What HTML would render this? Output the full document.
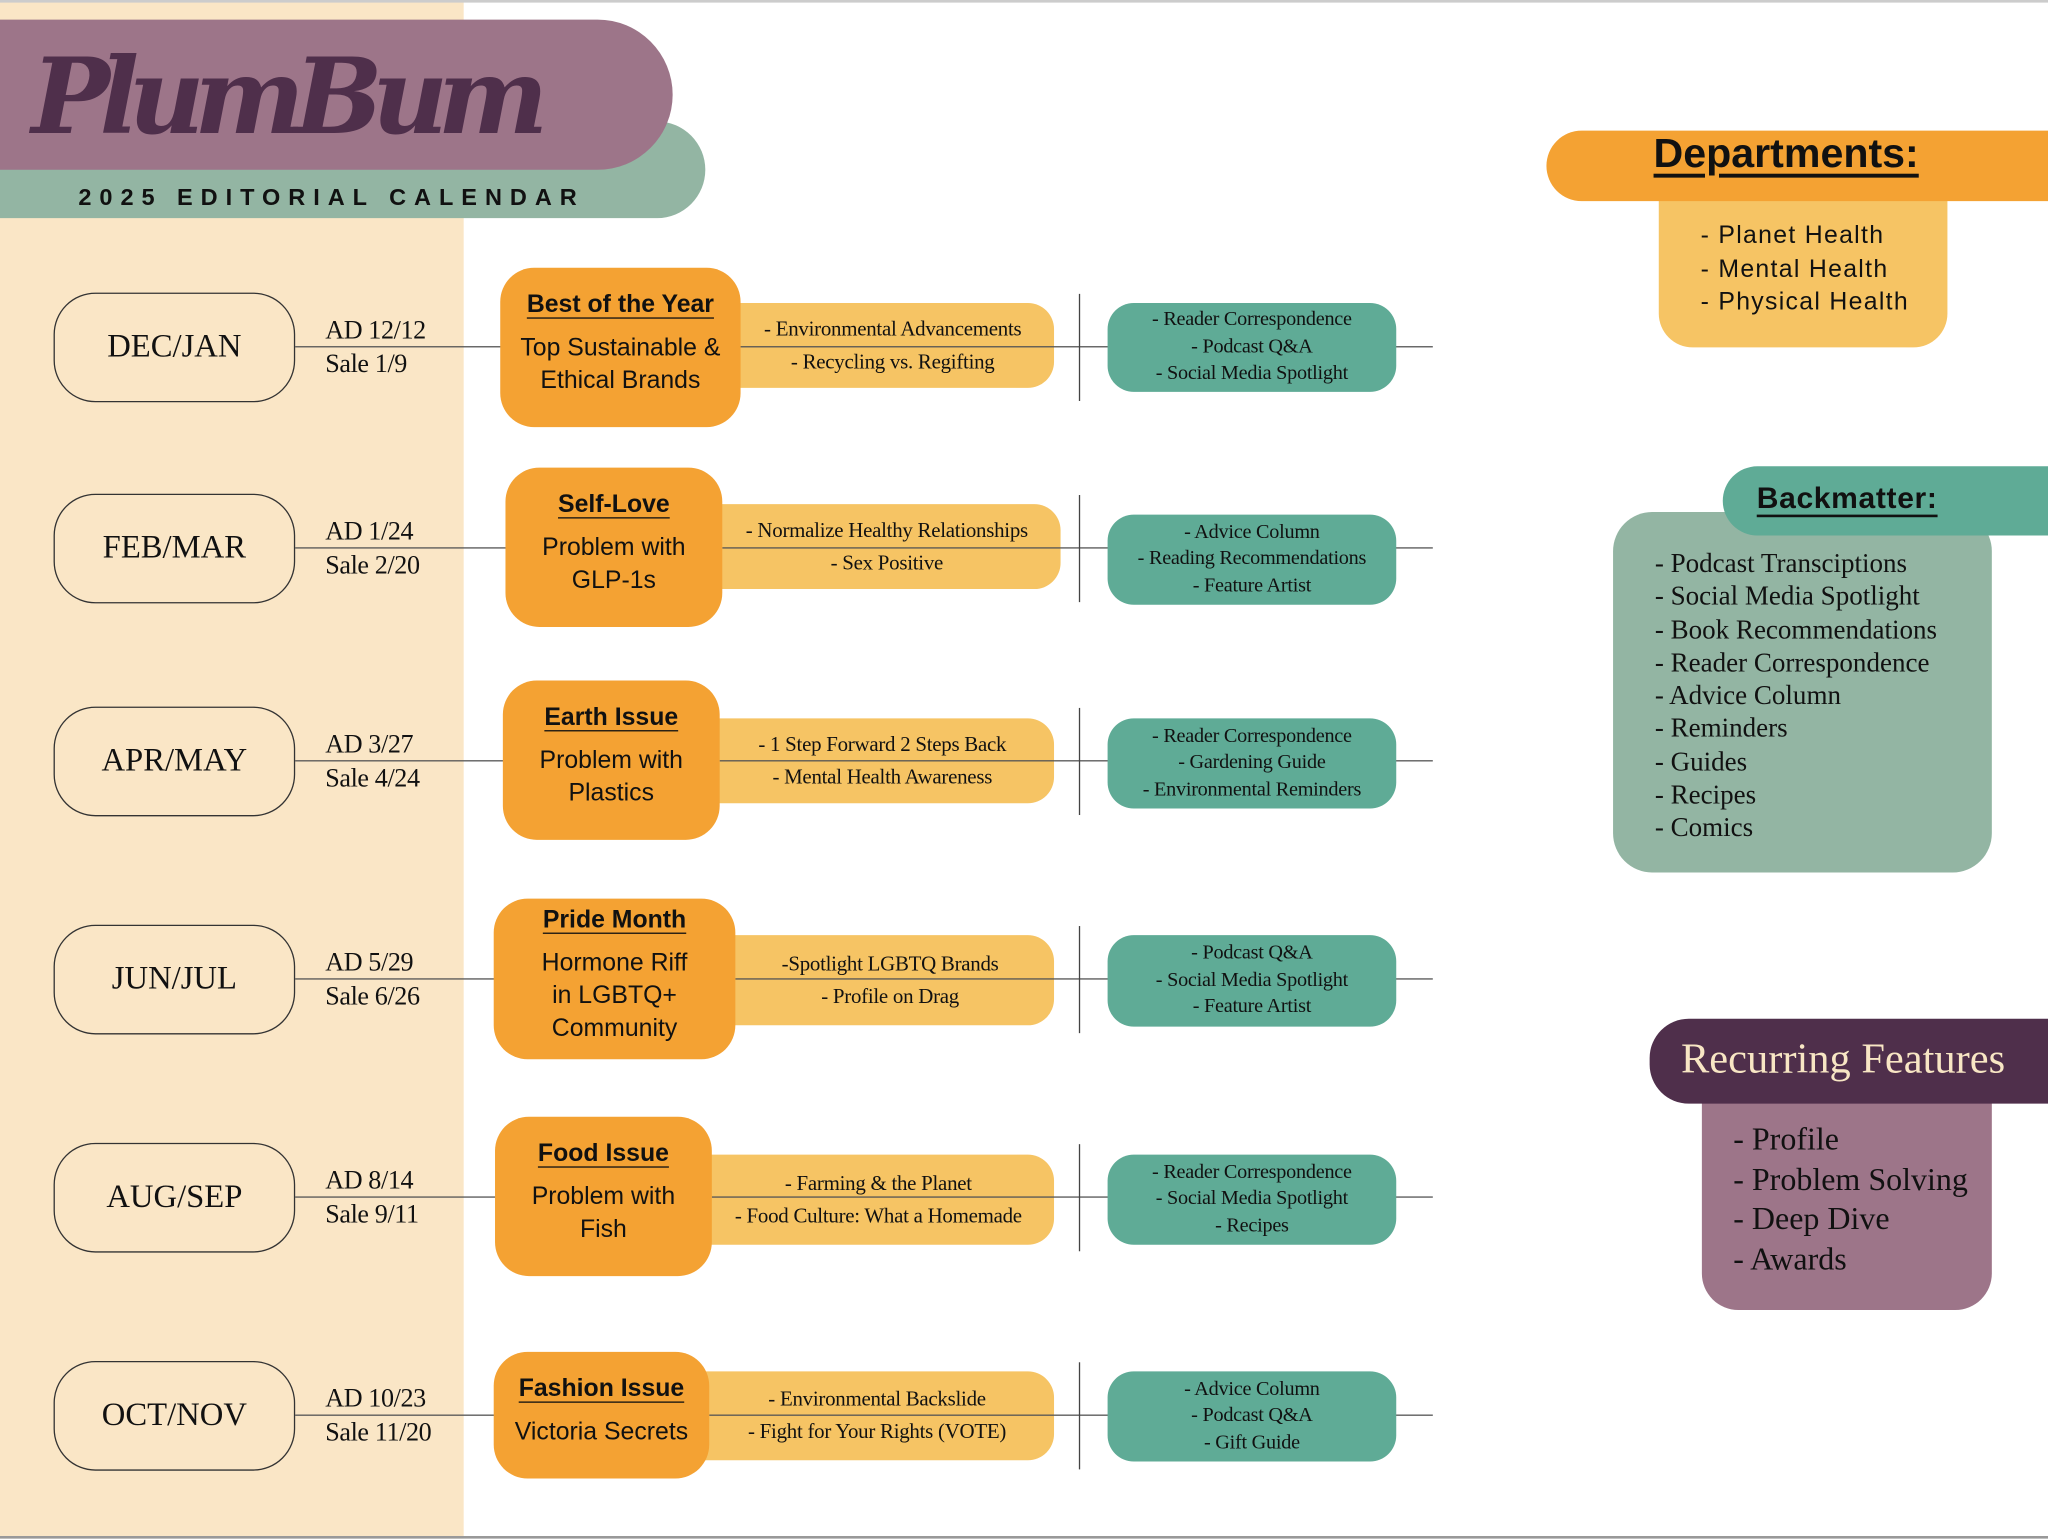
<!DOCTYPE html>
<html><head><meta charset="utf-8"><style>
html,body{margin:0;padding:0;background:#fff;width:2048px;height:1538px;overflow:hidden}
#s{position:absolute;left:0;top:0;width:1568px;height:1178px;transform:scale(1.30612);transform-origin:0 0;font-family:"Liberation Sans",sans-serif;color:#111}
.a{position:absolute;box-sizing:border-box}
.c{display:flex;flex-direction:column;align-items:center;justify-content:center;text-align:center}
.mon{border:1.2px solid #333;border-radius:32px;width:185px;height:84px;left:41px;font-family:"Liberation Serif",serif;font-size:25px;background:#fae6c6}
.hl{height:1.3px;background:#555}
.ad{font-family:"Liberation Serif",serif;font-size:20px;left:249px;line-height:26px;letter-spacing:-0.3px}
.or{background:#f4a233;border-radius:26px;font-size:19px;line-height:25px;z-index:3}
.or b{text-decoration:underline;text-underline-offset:4px;margin-bottom:8px;margin-top:-8px;font-size:19px}
.ye{background:#f6c464;border-radius:0 20px 20px 0;font-family:"Liberation Serif",serif;font-size:16px;line-height:25px;z-index:1;letter-spacing:-0.2px}
.gr{background:#5fab96;border-radius:20px;width:221px;left:848px;font-family:"Liberation Serif",serif;font-size:15.5px;line-height:20.5px;letter-spacing:-0.2px}
.vl{width:1.3px;background:#444;left:826px;height:82px}
.ln{z-index:2}
</style></head><body><div id="s">
<div class="a" style="left:0;top:0;width:355px;height:1178px;background:#fae6c6"></div>
<div class="a" style="left:0;top:0;width:1568px;height:1.5px;background:#ccc"></div>
<div class="a" style="left:0;top:1176px;width:1568px;height:2px;background:#999"></div>
<!-- header -->
<div class="a" style="left:0;top:93px;width:540px;height:74px;background:#93b5a3;border-radius:0 40px 40px 0"></div>
<div class="a" style="left:0;top:15px;width:515px;height:115px;background:#9d7589;border-radius:0 58px 58px 0"></div>
<div class="a" style="left:24px;top:14px;font-family:'DejaVu Serif',serif;font-style:italic;font-weight:bold;font-size:80px;color:#4f2f4b;letter-spacing:-8px;line-height:120px">PlumBum</div>
<div class="a" style="left:60px;top:139px;font-size:18px;font-weight:bold;letter-spacing:6.1px;color:#111;line-height:24px">2025 EDITORIAL CALENDAR</div>

<!-- row 1 -->
<div class="a hl" style="left:226px;top:265px;width:871px"></div>
<div class="a mon c" style="top:224px">DEC/JAN</div>
<div class="a ad" style="top:240px">AD 12/12<br>Sale 1/9</div>
<div class="a or c" style="left:383px;top:205px;width:184px;height:122px"><b>Best of the Year</b>Top Sustainable &amp;<br>Ethical Brands</div>
<div class="a ye c" style="left:560px;top:232px;width:247px;height:65px">- Environmental Advancements<br>- Recycling vs. Regifting</div>
<div class="a hl ln" style="left:567px;top:265px;width:240px"></div>
<div class="a vl" style="top:225px"></div>
<div class="a gr c" style="top:232px;height:68px">- Reader Correspondence<br>- Podcast Q&amp;A<br>- Social Media Spotlight</div>

<!-- row 2 -->
<div class="a hl" style="left:226px;top:419px;width:871px"></div>
<div class="a mon c" style="top:378px">FEB/MAR</div>
<div class="a ad" style="top:394px">AD 1/24<br>Sale 2/20</div>
<div class="a or c" style="left:387px;top:358px;width:166px;height:122px"><b>Self-Love</b>Problem with<br>GLP-1s</div>
<div class="a ye c" style="left:546px;top:386px;width:266px;height:65px">- Normalize Healthy Relationships<br>- Sex Positive</div>
<div class="a hl ln" style="left:553px;top:419px;width:259px"></div>
<div class="a vl" style="top:379px"></div>
<div class="a gr c" style="top:394px;height:69px">- Advice Column<br>- Reading Recommendations<br>- Feature Artist</div>

<!-- row 3 -->
<div class="a hl" style="left:226px;top:582px;width:871px"></div>
<div class="a mon c" style="top:541px">APR/MAY</div>
<div class="a ad" style="top:557px">AD 3/27<br>Sale 4/24</div>
<div class="a or c" style="left:385px;top:521px;width:166px;height:122px"><b>Earth Issue</b>Problem with<br>Plastics</div>
<div class="a ye c" style="left:544px;top:550px;width:263px;height:65px">- 1 Step Forward 2 Steps Back<br>- Mental Health Awareness</div>
<div class="a hl ln" style="left:551px;top:582px;width:256px"></div>
<div class="a vl" style="top:542px"></div>
<div class="a gr c" style="top:550px;height:69px">- Reader Correspondence<br>- Gardening Guide<br>- Environmental Reminders</div>

<!-- row 4 -->
<div class="a hl" style="left:226px;top:749px;width:871px"></div>
<div class="a mon c" style="top:708px">JUN/JUL</div>
<div class="a ad" style="top:724px">AD 5/29<br>Sale 6/26</div>
<div class="a or c" style="left:378px;top:688px;width:185px;height:123px"><b>Pride Month</b>Hormone Riff<br>in LGBTQ+<br>Community</div>
<div class="a ye c" style="left:556px;top:716px;width:251px;height:69px">-Spotlight LGBTQ Brands<br>- Profile on Drag</div>
<div class="a hl ln" style="left:563px;top:749px;width:244px"></div>
<div class="a vl" style="top:709px"></div>
<div class="a gr c" style="top:716px;height:70px">- Podcast Q&amp;A<br>- Social Media Spotlight<br>- Feature Artist</div>

<!-- row 5 -->
<div class="a hl" style="left:226px;top:916px;width:871px"></div>
<div class="a mon c" style="top:875px">AUG/SEP</div>
<div class="a ad" style="top:891px">AD 8/14<br>Sale 9/11</div>
<div class="a or c" style="left:379px;top:855px;width:166px;height:122px"><b>Food Issue</b>Problem with<br>Fish</div>
<div class="a ye c" style="left:538px;top:884px;width:269px;height:69px">- Farming &amp; the Planet<br>- Food Culture: What a Homemade</div>
<div class="a hl ln" style="left:545px;top:916px;width:262px"></div>
<div class="a vl" style="top:876px"></div>
<div class="a gr c" style="top:884px;height:69px">- Reader Correspondence<br>- Social Media Spotlight<br>- Recipes</div>

<!-- row 6 -->
<div class="a hl" style="left:226px;top:1083px;width:871px"></div>
<div class="a mon c" style="top:1042px">OCT/NOV</div>
<div class="a ad" style="top:1058px">AD 10/23<br>Sale 11/20</div>
<div class="a or c" style="left:378px;top:1035px;width:165px;height:97px"><b>Fashion Issue</b>Victoria Secrets</div>
<div class="a ye c" style="left:536px;top:1050px;width:271px;height:68px">- Environmental Backslide<br>- Fight for Your Rights (VOTE)</div>
<div class="a hl ln" style="left:543px;top:1083px;width:264px"></div>
<div class="a vl" style="top:1043px"></div>
<div class="a gr c" style="top:1050px;height:69px">- Advice Column<br>- Podcast Q&amp;A<br>- Gift Guide</div>

<!-- Departments -->
<div class="a" style="left:1270px;top:140px;width:221px;height:126px;background:#f6c464;border-radius:0 0 26px 26px"></div>
<div class="a" style="left:1184px;top:100px;width:400px;height:54px;background:#f4a233;border-radius:27px 0 0 27px"></div>
<div class="a" style="left:1266px;top:97px;font-size:31.5px;font-weight:bold;text-decoration:underline;text-underline-offset:5px;line-height:40px">Departments:</div>
<div class="a" style="left:1302px;top:168px;font-size:19px;line-height:25.5px;letter-spacing:1px">- Planet Health<br>- Mental Health<br>- Physical Health</div>

<!-- Backmatter -->
<div class="a" style="left:1235px;top:392px;width:290px;height:276px;background:#93b5a3;border-radius:30px"></div>
<div class="a" style="left:1319px;top:357px;width:260px;height:53px;background:#5fab96;border-radius:27px 0 0 27px"></div>
<div class="a" style="left:1345px;top:364px;font-size:23px;font-weight:bold;text-decoration:underline;text-underline-offset:5px;line-height:34px;letter-spacing:0.5px">Backmatter:</div>
<div class="a" style="left:1267px;top:420px;font-family:'Liberation Serif',serif;font-size:20.7px;line-height:25.3px">- Podcast Transciptions<br>- Social Media Spotlight<br>- Book Recommendations<br>- Reader Correspondence<br>- Advice Column<br>- Reminders<br>- Guides<br>- Recipes<br>- Comics</div>

<!-- Recurring -->
<div class="a" style="left:1303px;top:830px;width:222px;height:173px;background:#9d7589;border-radius:0 0 28px 28px"></div>
<div class="a" style="left:1263px;top:780px;width:320px;height:65px;background:#4f2f4b;border-radius:30px 0 0 30px"></div>
<div class="a" style="left:1287px;top:790px;font-family:'Liberation Serif',serif;font-size:32.5px;color:#f8e6c4;line-height:42px">Recurring Features</div>
<div class="a" style="left:1327px;top:858px;font-family:'Liberation Serif',serif;font-size:24.5px;line-height:30.7px">- Profile<br>- Problem Solving<br>- Deep Dive<br>- Awards</div>
</div></body></html>
